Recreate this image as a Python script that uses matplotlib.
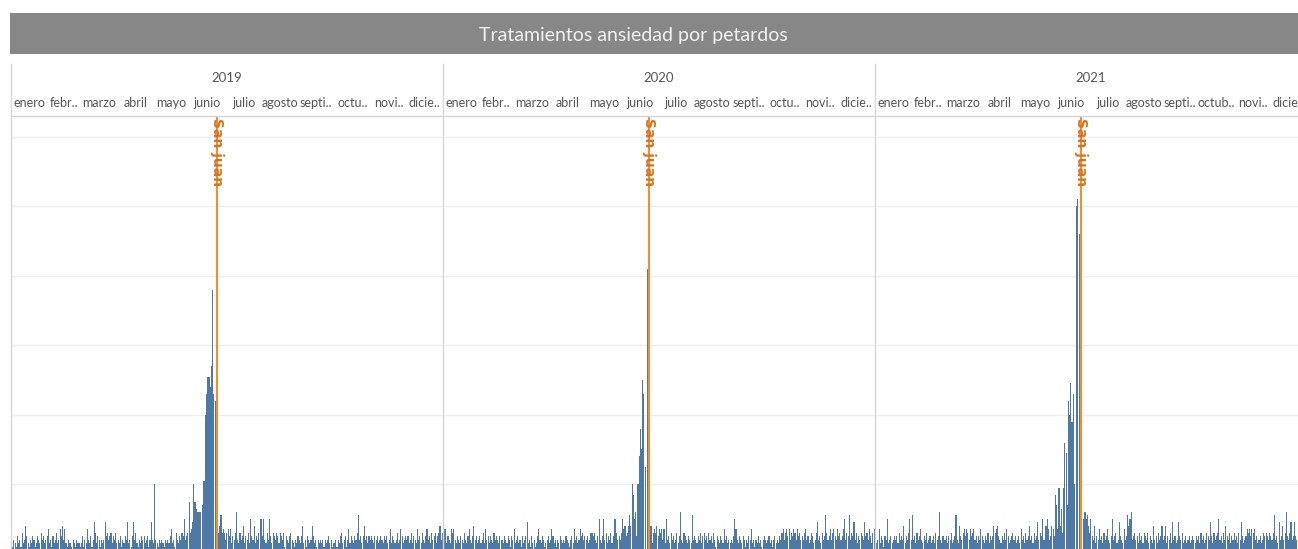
import numpy as np
import matplotlib
matplotlib.use('Agg')
import matplotlib.pyplot as plt
from matplotlib.lines import Line2D
from matplotlib.patches import Rectangle
from matplotlib.transforms import blended_transform_factory

# === DATA ===
YEARS = ['2019', '2020', '2021']
MONTHS_19_20 = ['enero', 'febr..', 'marzo', 'abril', 'mayo', 'junio', 'julio',
                'agosto', 'septi..', 'octu..', 'novi..', 'dicie..']
MONTHS_21 = ['enero', 'febr..', 'marzo', 'abril', 'mayo', 'junio', 'julio',
             'agosto', 'septi..', 'octub..', 'novi..', 'dicie..']
SAN_JUAN = ['2019-06-24', '2020-06-24', '2021-06-24']

# daily treatments, one row per month
counts_2019 = [
    3, 2, 4, 3, 2, 5, 3, 4, 2, 6, 3, 4, 8, 5, 3, 2, 4, 3, 5, 4, 2, 3, 5, 4, 3, 6, 4, 5, 3, 4, 5,
    7, 3, 4, 2, 5, 3, 4, 6, 3, 4, 7, 5, 8, 4, 7, 3, 2, 4, 3, 3, 2, 4, 3, 2, 4, 3, 3, 2,
    3, 5, 2, 4, 3, 7, 4, 3, 5, 2, 4, 9, 6, 3, 5, 4, 2, 4, 3, 4, 9, 5, 6, 4, 5, 6, 3, 5, 4, 6, 3,
    4, 3, 5, 2, 4, 3, 5, 4, 9, 3, 4, 2, 5, 9, 4, 6, 3, 2, 4, 3, 5, 4, 5, 3, 4, 5, 2, 4, 9, 4,
    3, 20, 4, 3, 2, 4, 3, 4, 3, 2, 4, 3, 4, 3, 5, 7, 3, 4, 2, 6, 4, 3, 5, 4, 6, 5, 10, 4, 5, 6, 15,
    6, 7, 9, 20, 15, 13, 12, 12, 12, 12, 14, 21, 21, 40, 46, 51, 51, 48, 54, 76, 46, 44, 6, 9, 6, 8, 11, 6, 7, 6,
    4, 6, 7, 5, 7, 3, 5, 4, 6, 12, 4, 3, 6, 4, 5, 8, 3, 5, 4, 6, 3, 10, 5, 4, 8, 3, 5, 4, 6, 10, 10,
    5, 10, 4, 3, 6, 4, 10, 5, 3, 6, 5, 4, 6, 5, 3, 6, 5, 4, 6, 2, 5, 4, 3, 5, 6, 4, 3, 2, 4, 3, 5,
    4, 3, 5, 8, 3, 4, 2, 5, 4, 3, 4, 8, 5, 3, 4, 2, 4, 3, 4, 3, 4, 2, 4, 3, 4, 5, 3, 4, 2, 3,
    3, 4, 2, 4, 3, 5, 6, 3, 4, 5, 2, 4, 7, 3, 5, 4, 3, 5, 4, 6, 11, 4, 5, 3, 5, 8, 4, 5, 3, 5, 4,
    5, 4, 3, 5, 4, 5, 3, 4, 5, 4, 3, 5, 4, 5, 3, 4, 7, 3, 5, 4, 3, 4, 6, 3, 4, 7, 5, 3, 4, 5,
    4, 5, 3, 4, 6, 3, 5, 4, 3, 7, 4, 5, 3, 6, 4, 3, 5, 7, 4, 5, 3, 6, 4, 5, 6, 3, 5, 6, 8, 4, 6,
]
counts_2020 = [
    4, 7, 7, 3, 5, 4, 3, 7, 6, 7, 4, 3, 5, 4, 3, 5, 4, 3, 6, 4, 3, 5, 7, 4, 3, 5, 8, 4, 5, 3, 4,
    5, 3, 4, 6, 3, 7, 4, 5, 3, 5, 4, 3, 6, 4, 5, 4, 3, 5, 4, 4, 3, 5, 4, 3, 5, 4, 2, 5, 4,
    7, 3, 4, 5, 3, 4, 2, 5, 3, 4, 5, 9, 3, 4, 2, 5, 3, 4, 2, 3, 5, 7, 4, 3, 5, 4, 2, 3, 4, 5, 3,
    4, 7, 5, 3, 4, 2, 4, 3, 5, 4, 3, 4, 3, 5, 4, 3, 2, 4, 5, 3, 7, 4, 5, 3, 4, 7, 5, 6, 4, 5,
    4, 5, 3, 4, 6, 6, 5, 6, 4, 3, 5, 10, 4, 3, 5, 10, 4, 6, 3, 5, 4, 6, 3, 5, 10, 10, 6, 4, 5, 4, 6,
    10, 7, 8, 5, 6, 8, 11, 8, 20, 17, 10, 12, 5, 20, 28, 36, 30, 50, 46, 25, 0, 82, 78, 14, 8, 3, 6, 7, 6, 8,
    5, 7, 6, 7, 4, 7, 3, 10, 4, 5, 3, 6, 4, 5, 3, 4, 6, 3, 5, 12, 4, 3, 6, 5, 4, 3, 5, 4, 3, 11, 4,
    5, 4, 3, 5, 4, 6, 3, 5, 6, 4, 5, 3, 6, 4, 5, 3, 6, 4, 2, 5, 4, 3, 5, 4, 3, 7, 4, 5, 3, 4, 3,
    4, 3, 5, 10, 7, 4, 3, 5, 4, 3, 5, 4, 2, 4, 3, 5, 4, 7, 3, 4, 2, 4, 3, 5, 3, 4, 2, 4, 5, 4,
    3, 4, 5, 3, 4, 2, 4, 5, 3, 4, 3, 5, 4, 6, 7, 4, 6, 7, 5, 7, 4, 6, 5, 7, 6, 4, 7, 5, 6, 4, 5,
    4, 6, 7, 4, 5, 3, 4, 6, 5, 3, 4, 6, 9, 4, 5, 3, 6, 4, 5, 11, 6, 4, 5, 7, 4, 6, 7, 5, 4, 7,
    5, 6, 4, 5, 7, 10, 4, 6, 5, 11, 4, 6, 5, 9, 4, 6, 3, 5, 4, 6, 5, 4, 9, 5, 6, 4, 7, 5, 3, 6, 7,
]
counts_2021 = [
    5, 3, 4, 7, 3, 5, 4, 2, 5, 4, 10, 3, 4, 5, 3, 4, 5, 4, 5, 3, 6, 4, 5, 4, 8, 3, 5, 4, 6, 10, 4,
    11, 4, 5, 3, 6, 4, 5, 7, 4, 3, 5, 4, 6, 3, 4, 5, 3, 4, 5, 3, 6, 4, 5, 12, 4, 3, 5, 4,
    4, 5, 3, 5, 4, 6, 3, 4, 5, 11, 4, 3, 8, 5, 4, 6, 7, 5, 7, 6, 4, 7, 5, 6, 7, 4, 5, 3, 5, 4, 7,
    5, 4, 3, 5, 4, 6, 3, 5, 4, 5, 8, 6, 7, 8, 5, 4, 3, 5, 4, 6, 4, 7, 5, 3, 4, 5, 6, 4, 5, 3,
    4, 5, 3, 7, 4, 5, 3, 6, 4, 5, 8, 4, 5, 3, 6, 4, 5, 9, 4, 6, 5, 10, 4, 4, 8, 10, 7, 4, 5, 8, 7,
    5, 17, 14, 7, 19, 8, 13, 6, 19, 32, 29, 14, 44, 40, 49, 38, 46, 20, 0, 100, 102, 92, 0, 5, 0, 10, 12, 10, 11, 8,
    6, 10, 5, 4, 8, 3, 5, 4, 7, 4, 5, 3, 6, 4, 5, 7, 4, 3, 5, 10, 4, 5, 6, 3, 4, 9, 5, 4, 3, 7, 4,
    5, 11, 8, 10, 12, 4, 5, 6, 4, 5, 3, 6, 4, 5, 3, 6, 5, 4, 6, 3, 5, 4, 3, 8, 4, 5, 3, 6, 4, 5, 8,
    4, 5, 8, 3, 5, 4, 6, 3, 9, 4, 5, 3, 4, 9, 5, 4, 6, 3, 4, 5, 3, 4, 5, 3, 4, 5, 4, 3, 5, 4,
    5, 3, 6, 4, 5, 3, 4, 6, 5, 4, 9, 5, 3, 6, 4, 5, 6, 10, 4, 5, 3, 6, 4, 8, 5, 4, 6, 3, 5, 4, 6,
    4, 5, 3, 6, 4, 9, 5, 3, 4, 5, 7, 6, 7, 5, 7, 6, 7, 4, 5, 3, 4, 5, 3, 4, 6, 5, 6, 5, 4, 6,
    5, 4, 6, 11, 4, 5, 3, 9, 4, 5, 8, 4, 6, 12, 5, 4, 6, 9, 4, 5, 9, 5, 4, 6, 5, 7, 4, 5, 6, 4, 5,
]

# === STYLE / LAYOUT (pixels) ===
W, H = 1298, 549
FONT = ['Lato', 'DejaVu Sans']
BAR_COLOR = '#4e79a7'
LINE_COLOR = '#f28e2b'
PANEL_X = [11, 442.7, 875]
PANEL_W = 432
PLOT_TOP, PLOT_BOT = 116, 553.7
YMAX = 126


def fx(px):
    return px / W


def fy(py):
    return 1 - py / H


fig = plt.figure(figsize=(W / 100, H / 100), dpi=100)

# title bar
fig.add_artist(Rectangle((fx(10), fy(54)), 1, (54 - 13) / H, transform=fig.transFigure,
                         facecolor='#878787', edgecolor='none'))
fig.text(fx(633), fy(35), 'Tratamientos ansiedad por petardos', ha='center', va='center',
         color='#f2f2f2', fontsize=14, family=FONT, fontweight='normal')

plot_h = PLOT_BOT - PLOT_TOP
all_counts = [counts_2019, counts_2020, counts_2021]
all_months = [MONTHS_19_20, MONTHS_19_20, MONTHS_21]

for year, counts, months, x0, sj in zip(YEARS, all_counts, all_months, PANEL_X, SAN_JUAN):
    n = len(counts)
    start = np.datetime64(year + '-01-01')
    month_starts = np.array([(np.datetime64(f'{year}-{m:02d}-01') - start).astype(int) for m in range(1, 13)])
    month_ends = np.append(month_starts[1:], n)
    centers = (month_starts + month_ends) / 2
    sj_day = (np.datetime64(sj) - start).astype(int)

    ax = fig.add_axes([fx(x0), fy(PLOT_BOT), PANEL_W / W, plot_h / H])
    ax.bar(np.arange(n), counts, width=0.92, align='edge', color=BAR_COLOR, linewidth=0, zorder=2)
    ax.set_xlim(0, n)
    ax.set_ylim(0, YMAX)
    ax.set_yticks(np.arange(20, YMAX, 20))
    ax.grid(axis='y', color='#efefef', linewidth=1, zorder=0)
    ax.tick_params(left=False, bottom=False, labelleft=False, labelbottom=False)
    for s in ax.spines.values():
        s.set_visible(False)

    # San Juan reference line
    ax.axvline(sj_day, color=LINE_COLOR, linewidth=1.5, zorder=3)
    trans = blended_transform_factory(ax.transData, ax.transAxes)
    ax.text(sj_day, 1 - 2 / plot_h, 'San juan', transform=trans, rotation=270, ha='center', va='top',
            color='#d9741f', fontsize=10, fontweight='bold', family=['DejaVu Sans'], zorder=4, clip_on=False)

    # headers
    for c, lab in zip(centers, months):
        ax.text(c, (PLOT_BOT - 103) / plot_h, lab, transform=trans, ha='center', va='center',
                fontsize=9, color='#555555', family=FONT, clip_on=False)
    ax.text(n / 2, (PLOT_BOT - 78) / plot_h, year, transform=trans, ha='center', va='center',
            fontsize=9.5, color='#555555', family=FONT, clip_on=False)

    # panel divider
    fig.add_artist(Line2D([fx(x0), fx(x0)], [fy(64), fy(H + 5)], transform=fig.transFigure,
                          color='#d6d6d6', linewidth=1))

# line under month header
fig.add_artist(Line2D([fx(11), 1], [fy(PLOT_TOP), fy(PLOT_TOP)], transform=fig.transFigure,
                      color='#d6d6d6', linewidth=1))

fig.savefig('out.png', dpi=100)
